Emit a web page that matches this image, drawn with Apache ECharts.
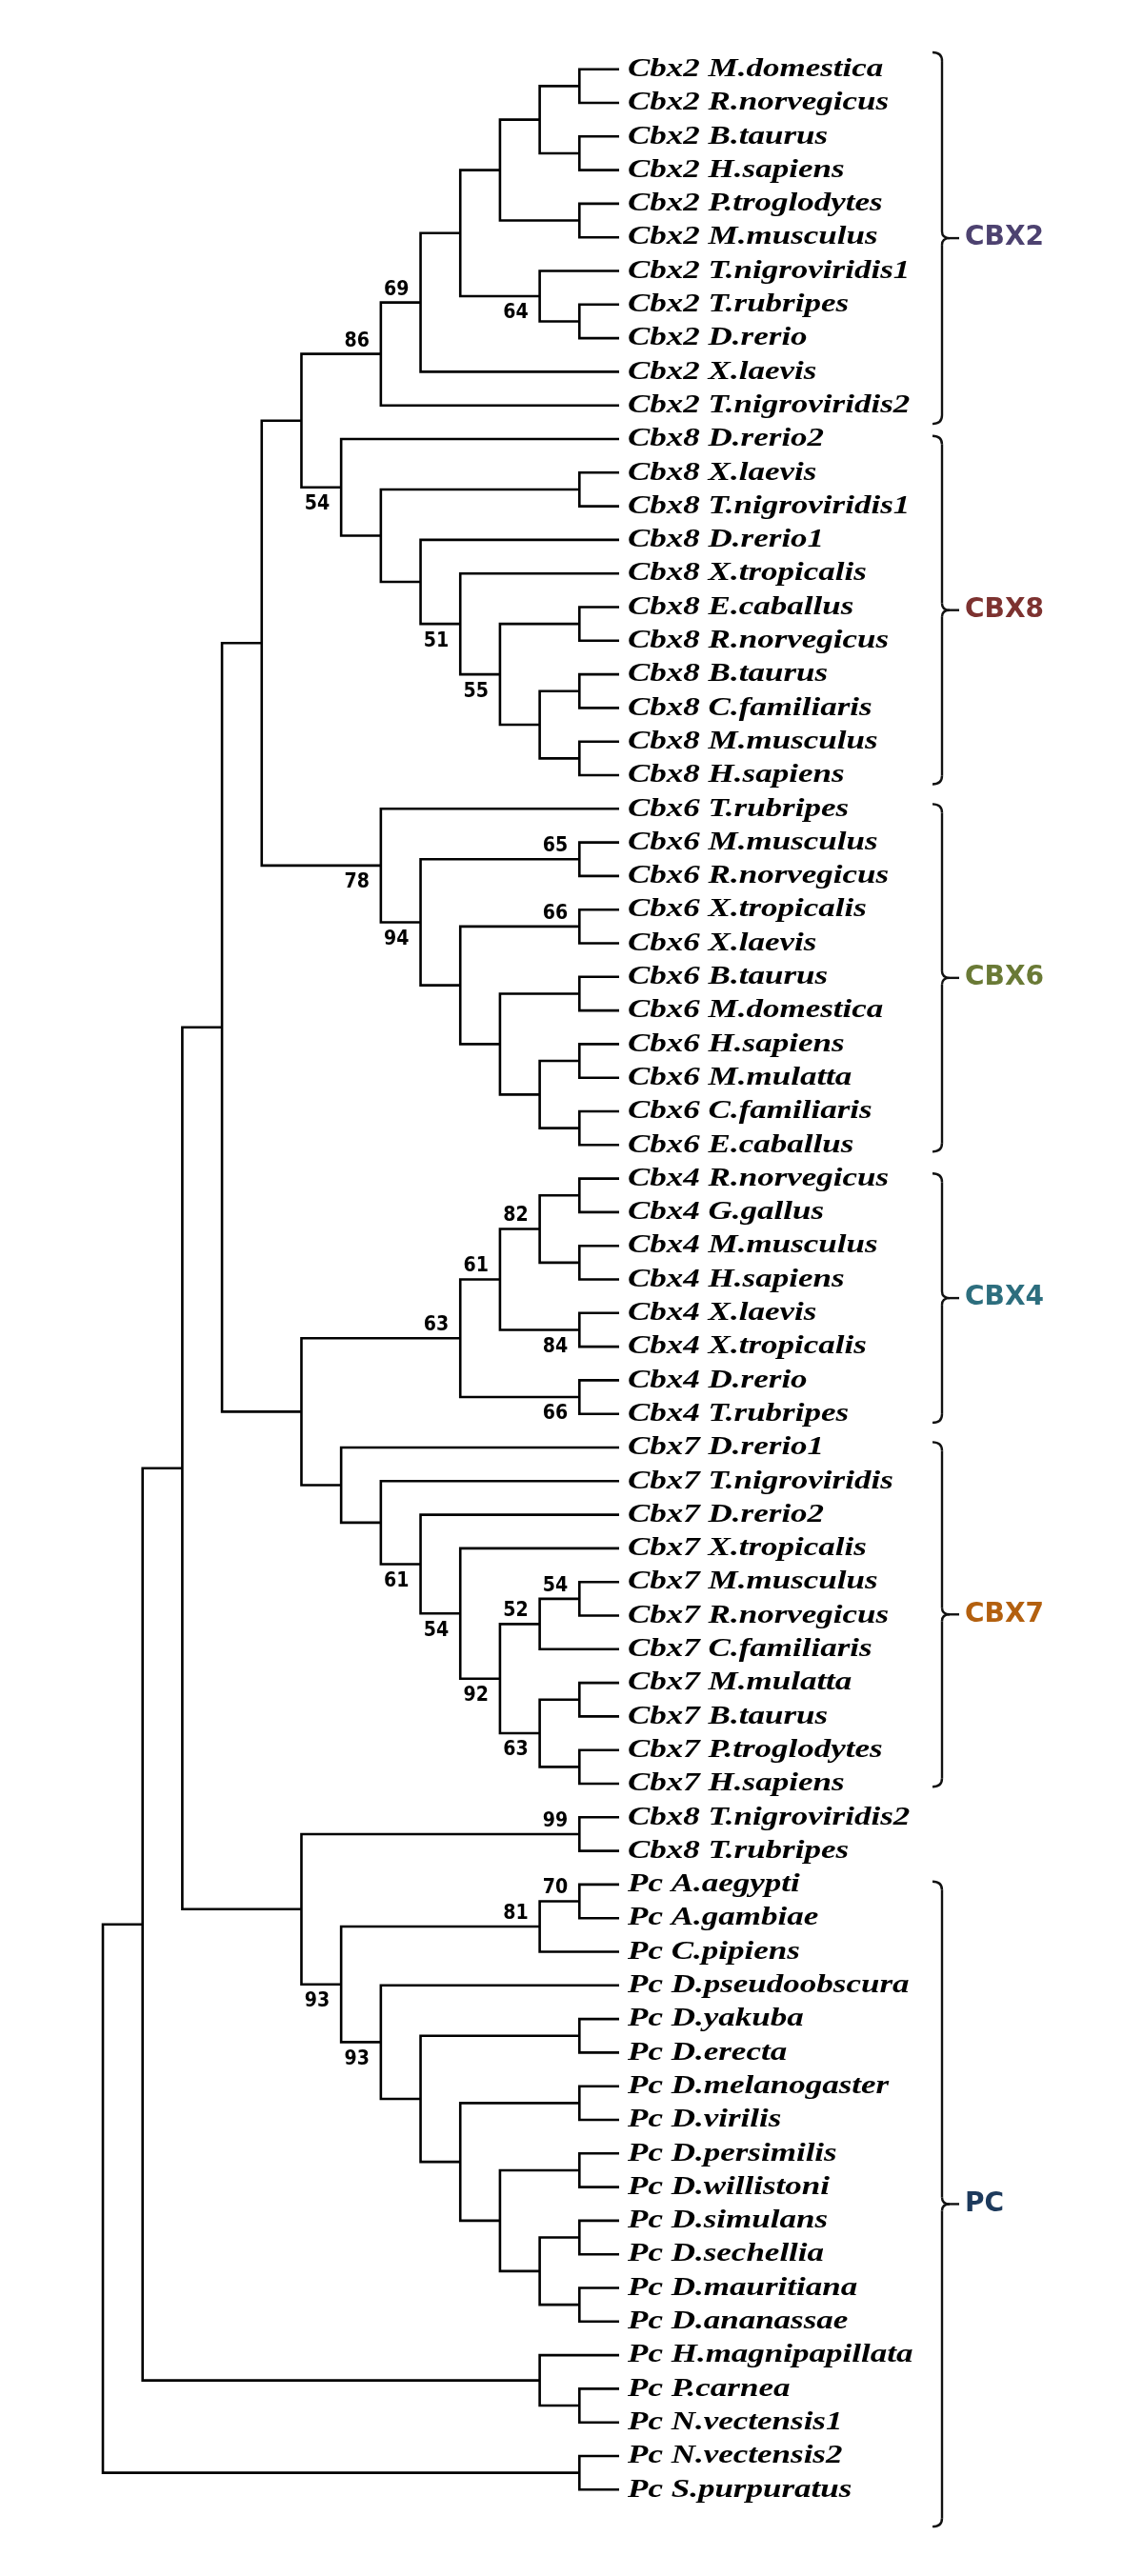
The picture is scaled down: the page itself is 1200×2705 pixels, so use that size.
<!DOCTYPE html>
<html><head><meta charset="utf-8">
<script src="https://cdn.jsdelivr.net/npm/echarts@6/dist/echarts.min.js"></script>
<style>html,body{margin:0;padding:0;background:#fff}#c{width:1200px;height:2705px}</style>
</head><body><div id="c"></div><script>
// ---------------- DATA ----------------
const leafNames = [
  'Cbx2 M.domestica','Cbx2 R.norvegicus','Cbx2 B.taurus','Cbx2 H.sapiens','Cbx2 P.troglodytes','Cbx2 M.musculus',
  'Cbx2 T.nigroviridis1','Cbx2 T.rubripes','Cbx2 D.rerio','Cbx2 X.laevis','Cbx2 T.nigroviridis2',
  'Cbx8 D.rerio2','Cbx8 X.laevis','Cbx8 T.nigroviridis1','Cbx8 D.rerio1','Cbx8 X.tropicalis','Cbx8 E.caballus',
  'Cbx8 R.norvegicus','Cbx8 B.taurus','Cbx8 C.familiaris','Cbx8 M.musculus','Cbx8 H.sapiens',
  'Cbx6 T.rubripes','Cbx6 M.musculus','Cbx6 R.norvegicus','Cbx6 X.tropicalis','Cbx6 X.laevis','Cbx6 B.taurus',
  'Cbx6 M.domestica','Cbx6 H.sapiens','Cbx6 M.mulatta','Cbx6 C.familiaris','Cbx6 E.caballus',
  'Cbx4 R.norvegicus','Cbx4 G.gallus','Cbx4 M.musculus','Cbx4 H.sapiens','Cbx4 X.laevis','Cbx4 X.tropicalis',
  'Cbx4 D.rerio','Cbx4 T.rubripes',
  'Cbx7 D.rerio1','Cbx7 T.nigroviridis','Cbx7 D.rerio2','Cbx7 X.tropicalis','Cbx7 M.musculus','Cbx7 R.norvegicus',
  'Cbx7 C.familiaris','Cbx7 M.mulatta','Cbx7 B.taurus','Cbx7 P.troglodytes','Cbx7 H.sapiens',
  'Cbx8 T.nigroviridis2','Cbx8 T.rubripes',
  'Pc A.aegypti','Pc A.gambiae','Pc C.pipiens','Pc D.pseudoobscura','Pc D.yakuba','Pc D.erecta',
  'Pc D.melanogaster','Pc D.virilis','Pc D.persimilis','Pc D.willistoni','Pc D.simulans','Pc D.sechellia',
  'Pc D.mauritiana','Pc D.ananassae','Pc H.magnipapillata','Pc P.carnea','Pc N.vectensis1',
  'Pc N.vectensis2','Pc S.purpuratus'
];
// internal nodes: [id, depth column, child A (upper), child B (lower), bootstrap]
// numeric child = leaf index, string child = node id
const treeNodes = [
  ['n2a',12,0,1,null],['n2b',12,2,3,null],['n2c',11,'n2a','n2b',null],['n2d',12,4,5,null],
  ['n2e',10,'n2c','n2d',null],['n2f',12,7,8,null],['n2g',11,6,'n2f',64],['n2h',9,'n2e','n2g',null],
  ['n2i',8,'n2h',9,69],['n2j',7,'n2i',10,86],
  ['n8a',12,12,13,null],['n8b',12,16,17,null],['n8c',12,18,19,null],['n8d',12,20,21,null],
  ['n8e',11,'n8c','n8d',null],['n8f',10,'n8b','n8e',55],['n8g',9,15,'n8f',51],['n8h',8,14,'n8g',null],
  ['n8i',7,'n8a','n8h',null],['n8j',6,11,'n8i',54],
  ['n28',5,'n2j','n8j',null],
  ['n6a',12,23,24,65],['n6b',12,25,26,66],['n6c',12,27,28,null],['n6d',12,29,30,null],['n6e',12,31,32,null],
  ['n6f',11,'n6d','n6e',null],['n6g',10,'n6c','n6f',null],['n6h',9,'n6b','n6g',null],['n6i',8,'n6a','n6h',94],
  ['n6j',7,22,'n6i',78],
  ['n286',4,'n28','n6j',null],
  ['n4a',12,33,34,null],['n4b',12,35,36,null],['n4c',11,'n4a','n4b',82],['n4d',12,37,38,84],
  ['n4e',10,'n4c','n4d',61],['n4f',12,39,40,66],['n4g',9,'n4e','n4f',63],
  ['n7a',12,45,46,54],['n7b',11,'n7a',47,52],['n7c',12,48,49,null],['n7d',12,50,51,null],
  ['n7e',11,'n7c','n7d',63],['n7f',10,'n7b','n7e',92],['n7g',9,44,'n7f',54],['n7h',8,43,'n7g',61],
  ['n7i',7,42,'n7h',null],['n7j',6,41,'n7i',null],
  ['n47',5,'n4g','n7j',null],
  ['n2864',3,'n286','n47',null],
  ['nxa',12,52,53,99],['npa',12,54,55,70],['npb',11,'npa',56,81],['npc',12,58,59,null],['npd',12,60,61,null],
  ['npe',12,62,63,null],['npf',12,64,65,null],['npg',12,66,67,null],['nph',11,'npf','npg',null],
  ['npi',10,'npe','nph',null],['npj',9,'npd','npi',null],['npk',8,'npc','npj',null],['npl',7,57,'npk',93],
  ['npm',6,'npb','npl',93],['npn',5,'nxa','npm',null],
  ['n2',2,'n2864','npn',null],
  ['npo',12,69,70,null],['npp',11,68,'npo',null],['n1',1,'n2','npp',null],
  ['npq',12,71,72,null],['root',0,'n1','npq',null]
];
const groupNames = ['CBX2','CBX8','CBX6','CBX4','CBX7','PC'];
// bracket extent in leaf-row units [from, to]
const groupSpans = [[-0.5,10.55],[10.91,21.27],[21.86,32.2],[32.85,40.26],[40.84,51.09],[53.91,73.1]];
const groupColors = ['#4d4270','#7d3230','#6a7a36','#2d6e7e','#b3600f','#1d3a5c'];

// ---------------- BUILD ----------------
const LEAF_LEVEL = 13;
const nodeMap = {};
treeNodes.forEach(n => { nodeMap[n[0]] = {id:n[0], level:n[1], children:[n[2], n[3]], boot:n[4]}; });
function info(c){
  if (typeof c === 'number') return {level: LEAF_LEVEL, y: c};
  const n = nodeMap[c];
  if (n.y === undefined){
    const a = info(n.children[0]), b = info(n.children[1]);
    n.kids = [a,b]; n.y = (a.y + b.y) / 2;
  }
  return n;
}
treeNodes.forEach(n => info(n[0]));
const upperMap = {};
treeNodes.forEach(n => { if (typeof n[2] === 'string') upperMap[n[2]] = 1; if (typeof n[3] === 'string') upperMap[n[3]] = 0; });

const edgeData = treeNodes.map(n => { const o = nodeMap[n[0]]; return [o.level, o.y, o.kids[0].level, o.kids[0].y, o.kids[1].level, o.kids[1].y]; });
const bootData = treeNodes.filter(n => n[4] != null).map(n => { const o = nodeMap[n[0]]; return [o.level, o.y, o.boot, upperMap[o.id]]; });
const leafData = leafNames.map((nm, i) => [LEAF_LEVEL, i]);
const groupData = groupNames.map((g, i) => [groupSpans[i][0], groupSpans[i][1], i]);

const chart = echarts.init(document.getElementById('c'), null, {renderer:'canvas'});
const LW = 2.6;
chart.setOption({
  backgroundColor:'#ffffff',
  animation:false,
  grid:{left:108, top:72.7, width:542, height:2541.6},
  xAxis:{type:'value', min:0, max:13, show:false},
  yAxis:{type:'value', min:0, max:72, inverse:true, show:false},
  series:[
    {
      type:'custom', data:edgeData, clip:false, silent:true,
      encode:{x:[0,2,4], y:[1,3,5]},
      renderItem(params, api){
        const p = api.coord([api.value(0), api.value(1)]);
        const a = api.coord([api.value(2), api.value(3)]);
        const b = api.coord([api.value(4), api.value(5)]);
        return {type:'polyline', shape:{points:[[a[0],a[1]],[p[0],a[1]],[p[0],b[1]],[b[0],b[1]]]},
          style:{stroke:'#000', lineWidth:LW, fill:null, lineJoin:'miter', lineCap:'butt'}};
      }
    },
    {
      type:'custom', data:leafData, clip:false, silent:true,
      encode:{x:0, y:1},
      renderItem(params, api){
        const p = api.coord([api.value(0), api.value(1)]);
        return {type:'text', x:p[0]+9, y:p[1], scaleX:1.25, scaleY:1,
          style:{text:leafNames[params.dataIndex], fontFamily:'"Liberation Serif","Times New Roman",serif',
            fontStyle:'italic', fontWeight:'bold', fontSize:28, fill:'#000', align:'left', verticalAlign:'middle'}};
      }
    },
    {
      type:'custom', data:bootData, clip:false, silent:true,
      encode:{x:0, y:1},
      renderItem(params, api){
        const p = api.coord([api.value(0), api.value(1)]);
        const up = api.value(3) === 1;
        return {type:'text', x:p[0]-12, y: up ? p[1]-13.5 : p[1]+18, scaleY:1.1,
          style:{text:String(api.value(2)), fontFamily:'"DejaVu Sans",sans-serif', fontWeight:'bold',
            fontSize:19, fill:'#000', align:'right', verticalAlign:'middle'}};
      }
    },
    {
      type:'custom', data:groupData, clip:false, silent:true,
      encode:{y:[0,1]},
      renderItem(params, api){
        const t = api.coord([0, api.value(0)])[1];
        const b = api.coord([0, api.value(1)])[1];
        const m = (t + b) / 2;
        const x0 = 989, xl = 979, xt = 997;
        const st = {stroke:'#111', lineWidth:2.4, fill:null};
        const gi = api.value(2);
        return {type:'group', children:[
          {type:'bezierCurve', shape:{x1:xl, y1:t, x2:x0, y2:t+9, cpx1:x0, cpy1:t}, style:st},
          {type:'line', shape:{x1:x0, y1:t+9, x2:x0, y2:m-7}, style:st},
          {type:'bezierCurve', shape:{x1:x0, y1:m-7, x2:xt, y2:m, cpx1:x0, cpy1:m}, style:st},
          {type:'bezierCurve', shape:{x1:xt, y1:m, x2:x0, y2:m+7, cpx1:x0, cpy1:m}, style:st},
          {type:'line', shape:{x1:x0, y1:m+7, x2:x0, y2:b-9}, style:st},
          {type:'bezierCurve', shape:{x1:x0, y1:b-9, x2:xl, y2:b, cpx1:x0, cpy1:b}, style:st},
          {type:'line', shape:{x1:xt, y1:m, x2:xt+10, y2:m}, style:st},
          {type:'text', x:1013, y:m, style:{text:groupNames[gi], fontFamily:'"DejaVu Sans",sans-serif',
            fontWeight:'bold', fontSize:28, fill:groupColors[gi], align:'left', verticalAlign:'middle'}}
        ]};
      }
    }
  ]
});
</script></body></html>
